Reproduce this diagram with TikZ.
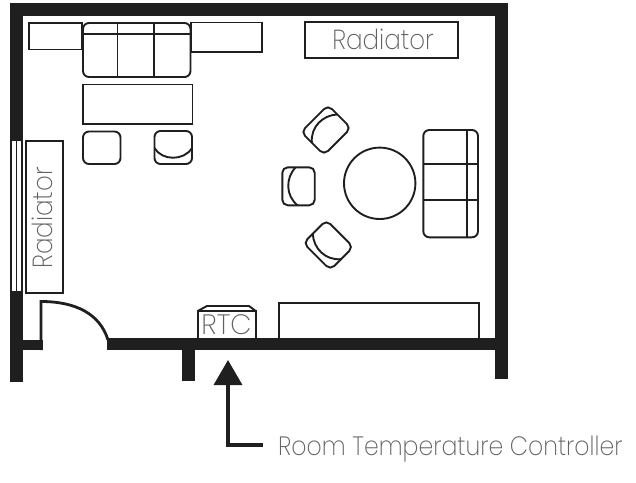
\documentclass[tikz,border=0pt]{standalone}
\usepackage{fontspec}
\setmainfont{Poppins ExtraLight}[FakeStretch=0.89]
\newfontfamily\rtcfont{Poppins ExtraLight}[FakeStretch=0.98]
\usetikzlibrary{arrows.meta}
\definecolor{wallblack}{gray}{0.12}
\def\roundchair(#1)(#2){\begin{scope}[shift={(#1)},rotate=#2]
	\draw[furniture,rounded corners=5.5] (-16.2,-19) rectangle (16.2,19);
	\draw[furniture] (-3,-19) .. controls (-13,-8) and (-13,9) .. (-1,19);
\end{scope}}
\tikzset{
	wall/.style={fill=wallblack,draw=none},
	furniture/.style={draw=wallblack,line width=1.9pt},
	legend/.style={text=black!62,inner sep=0pt,font=\fontsize{26.5}{26.5}\selectfont},
	roomname/.style={legend,font=\fontsize{27.6}{27.6}\selectfont},
	rtcname/.style={legend,font=\rtcfont\fontsize{28}{28}\selectfont},
	leader/.style={draw=wallblack,line width=3.5pt,-{Triangle[length=25pt,width=28pt]}}
}

\begin{document}
\begin{tikzpicture}[x=1pt,y=-1pt]
	%%%%% START %%%%%
	\useasboundingbox[fill=white] (0,0) rectangle (636,482);

	% walls
	\fill[wall] (10,3) rectangle (508,16);
	\fill[wall] (10,3) rectangle (23,141);
	\fill[wall] (495,3) rectangle (508,379);
	\fill[wall] (10,290.5) rectangle (23,381.5);
	\fill[wall] (23,340) rectangle (43,350);
	\fill[wall] (107,337.5) rectangle (495,350);
	\fill[wall] (182,350) rectangle (195,381);

	% window
	\draw[draw=wallblack,line width=2pt] (11,141) -- (11,291);
	\draw[draw=wallblack,line width=1.3pt] (16.7,141) -- (16.7,291);
	\draw[draw=wallblack,line width=2pt] (21.9,141) -- (21.9,291);

	% door
	\draw[draw=wallblack,line width=2.8pt] (41,350) -- (41,301.5) .. controls (76,301.5) and (100,314) .. (108,340);

	% sofa group
	\draw[furniture] (29,23) rectangle (82,49.5);
	\draw[furniture] (191,22.5) rectangle (262,52);
	\draw[furniture,rounded corners=6] (83,23) rectangle (190.5,77);
	\draw[furniture] (83,34) -- (190.5,34);
	\draw[furniture] (117.5,23) -- (117.5,77);
	\draw[furniture] (154,23) -- (154,77);
	\draw[furniture] (83,84.5) rectangle (192.5,124);
	\draw[furniture,rounded corners=6] (83,131.5) rectangle (120.5,164);
	\draw[furniture,rounded corners=6] (154.5,131) rectangle (192,164);
	\draw[furniture] (154.5,148) .. controls (162,161) and (184,161) .. (192,148);

	% dining group
	\draw[furniture] (379.7,183.3) circle (35.7);
	\draw[furniture,rounded corners=6] (423.3,130) rectangle (478,237.3);
	\draw[furniture] (467.3,130) -- (467.3,237.3);
	\draw[furniture] (423.3,164) -- (478,164);
	\draw[furniture] (423.3,200.3) -- (478,200.3);
	\roundchair(298.5,186.3)(0)
	\roundchair(326,130)(-45)
	\roundchair(328.3,245)(45)

	% long unit and controller
	\draw[furniture] (279.3,338) -- (279.3,303.3) -- (478.7,303.3) -- (478.7,338);
	\draw[furniture] (197.7,338) -- (197.7,311) -- (255.7,311) -- (255.7,338);
	\draw[furniture] (197.7,311) -- (207,306) -- (249,306) -- (255.7,311);
	\node[rtcname,anchor=base] (rtclabel) at (226.5,334) {RTC};

	% radiators
	\node[furniture,draw,minimum width=152.7pt,minimum height=36pt,inner sep=0pt] (radtop) at (381.3,40) {};
	\node[roomname,anchor=base] (radtoplabel) at (383,49) {Radiator};
	\node[furniture,draw,minimum width=37.3pt,minimum height=152.3pt,inner sep=0pt] (radleft) at (44.6,217.2) {};
	\node[roomname,anchor=base,rotate=90] (radleftlabel) at (52,218) {Radiator};

	% controller callout
	\coordinate (rtcarrowtip) at (228,360);
	\node[legend,anchor=base west] (ctrllabel) at (278,455.7) {Room Temperature Controller};
	\draw[leader,shorten <=15pt] (ctrllabel.west |- 0,445) -| (rtcarrowtip);
	%%%%% END %%%%%
\end{tikzpicture}
\end{document}
